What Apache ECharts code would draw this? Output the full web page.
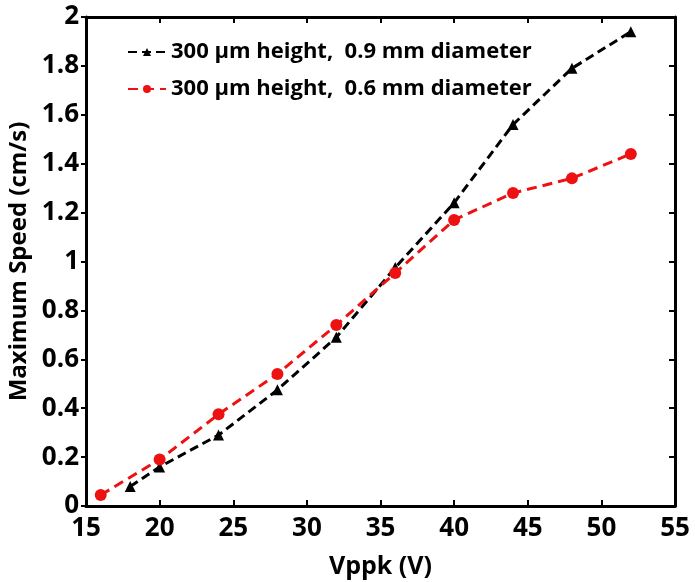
<!DOCTYPE html>
<html>
<head>
<meta charset="utf-8">
<script src="https://cdn.jsdelivr.net/npm/echarts@6/dist/echarts.min.js"></script>
<style>
  html, body { margin: 0; padding: 0; background: #fff; }
  #chart { width: 695px; height: 582px; }
</style>
</head>
<body>
<div id="chart"></div>
<script>
// data
var vppkBlack = [18, 20, 24, 28, 32, 36, 40, 44, 48, 52];
var speedBlack = [0.08, 0.16, 0.29, 0.475, 0.69, 0.975, 1.24, 1.56, 1.79, 1.94];
var vppkRed = [16, 20, 24, 28, 32, 36, 40, 44, 48, 52];
var speedRed = [0.045, 0.19, 0.375, 0.54, 0.74, 0.953, 1.17, 1.28, 1.34, 1.44];
var nameBlack = "300 µm height,  0.9 mm diameter";
var nameRed = "300 µm height,  0.6 mm diameter";

function pairs(xs, ys) {
  return xs.map(function (x, i) { return [x, ys[i]]; });
}

var chart = echarts.init(document.getElementById("chart"));
var font = "'Open Sans', 'Noto Sans', sans-serif";
var lbl = { color: "#000", fontSize: 26, fontWeight: "bold", fontFamily: font };

var option = {
  animation: false,
  backgroundColor: "#fff",
  grid: { left: 86, right: 20, top: 17, bottom: 76, outerBoundsMode: "none" },
  legend: {
    left: 122,
    top: 36,
    orient: "vertical",
    itemWidth: 38,
    itemHeight: 10,
    itemGap: 15,
    textStyle: { color: "#000", fontSize: 22, fontWeight: "bold", fontFamily: font },
    data: [nameBlack, nameRed]
  },
  xAxis: [
    {
      type: "value", min: 15, max: 55, interval: 5,
      name: "Vppk (V)", nameLocation: "middle", nameGap: 48,
      nameTextStyle: { color: "#000", fontSize: 25, fontWeight: "bold", fontFamily: font },
      axisLine: { show: true, onZero: false, lineStyle: { color: "#000", width: 3 } },
      axisTick: { show: true, inside: true, length: 6, lineStyle: { color: "#000", width: 2 } },
      axisLabel: Object.assign({ margin: 10 }, lbl),
      splitLine: { show: false }
    },
    {
      type: "value", min: 15, max: 55, interval: 5, position: "top",
      axisLine: { show: true, onZero: false, lineStyle: { color: "#000", width: 3 } },
      axisTick: { show: true, inside: true, length: 6, lineStyle: { color: "#000", width: 2 } },
      axisLabel: { show: false },
      splitLine: { show: false }
    }
  ],
  yAxis: [
    {
      type: "value", min: 0, max: 2, interval: 0.2,
      name: "Maximum Speed (cm/s)", nameLocation: "middle", nameGap: 50,
      nameTextStyle: { color: "#000", fontSize: 24, fontWeight: "bold", fontFamily: font },
      axisLine: { show: true, onZero: false, lineStyle: { color: "#000", width: 3 } },
      axisTick: { show: true, inside: false, length: 5, lineStyle: { color: "#000", width: 2 } },
      axisLabel: Object.assign({ margin: 7, formatter: function (v) { return +v.toFixed(1) + ""; } }, lbl),
      splitLine: { show: false }
    },
    {
      type: "value", min: 0, max: 2, interval: 0.2, position: "right",
      axisLine: { show: true, onZero: false, lineStyle: { color: "#000", width: 3 } },
      axisTick: { show: true, inside: true, length: 6, lineStyle: { color: "#000", width: 2 } },
      axisLabel: { show: false },
      splitLine: { show: false }
    }
  ],
  series: [
    {
      name: nameBlack,
      type: "line",
      data: pairs(vppkBlack, speedBlack),
      symbol: "triangle",
      symbolSize: 11,
      itemStyle: { color: "#000" },
      lineStyle: { color: "#000", width: 3, type: [9, 5] }
    },
    {
      name: nameRed,
      type: "line",
      data: pairs(vppkRed, speedRed),
      symbol: "circle",
      symbolSize: 12,
      itemStyle: { color: "#ee1111" },
      lineStyle: { color: "#ee1111", width: 3, type: [10, 6] }
    }
  ]
};
chart.setOption(option);
</script>
</body>
</html>
